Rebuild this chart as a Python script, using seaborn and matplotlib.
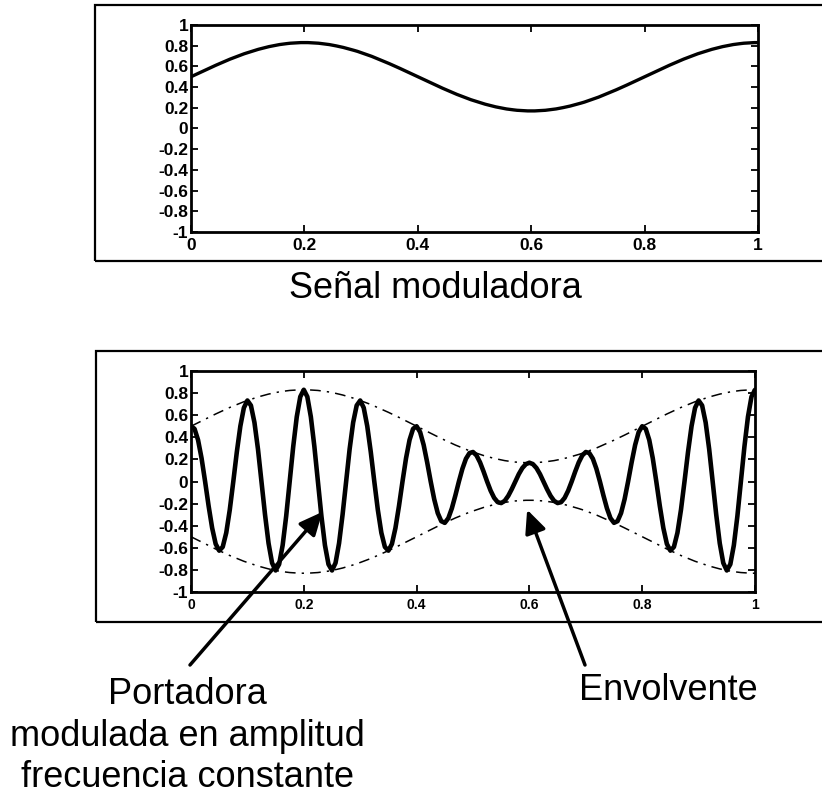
import matplotlib

matplotlib.use("Agg")
import matplotlib.pyplot as plt  # noqa: E402
import numpy as np  # noqa: E402
import pandas as pd  # noqa: E402
import seaborn as sns  # noqa: E402
from matplotlib.patches import Rectangle  # noqa: E402

W, H = 822, 799

# --- Datos ------------------------------------------------------------------
# muestras en t = 0 .. 1 (161 muestras, paso 1/160)
T = np.linspace(0.0, 1.0, 161)

# senal moduladora (tambien envolvente superior)
MODULADORA = [
    0.500, 0.516, 0.532, 0.548, 0.564, 0.580, 0.596, 0.611, 0.626, 0.641, 0.656,
    0.670, 0.683, 0.697, 0.709, 0.722, 0.733, 0.745, 0.755, 0.765, 0.774, 0.783,
    0.791, 0.798, 0.805, 0.811, 0.816, 0.820, 0.824, 0.826, 0.828, 0.830, 0.830,
    0.830, 0.828, 0.826, 0.824, 0.820, 0.816, 0.811, 0.805, 0.798, 0.791, 0.783,
    0.774, 0.765, 0.755, 0.745, 0.733, 0.722, 0.709, 0.697, 0.683, 0.670, 0.656,
    0.641, 0.626, 0.611, 0.596, 0.580, 0.564, 0.548, 0.532, 0.516, 0.500,
    0.484, 0.468, 0.452, 0.436, 0.420, 0.404, 0.389, 0.374, 0.359, 0.344, 0.330,
    0.317, 0.303, 0.291, 0.278, 0.267, 0.255, 0.245, 0.235, 0.226, 0.217, 0.209,
    0.202, 0.195, 0.189, 0.184, 0.180, 0.176, 0.174, 0.172, 0.170, 0.170,
    0.170, 0.172, 0.174, 0.176, 0.180, 0.184, 0.189, 0.195, 0.202, 0.209, 0.217,
    0.226, 0.235, 0.245, 0.255, 0.267, 0.278, 0.291, 0.303, 0.317, 0.330, 0.344,
    0.359, 0.374, 0.389, 0.404, 0.420, 0.436, 0.452, 0.468, 0.484, 0.500,
    0.516, 0.532, 0.548, 0.564, 0.580, 0.596, 0.611, 0.626, 0.641, 0.656, 0.670,
    0.683, 0.697, 0.709, 0.722, 0.733, 0.745, 0.755, 0.765, 0.774, 0.783, 0.791,
    0.798, 0.805, 0.811, 0.816, 0.820, 0.824, 0.826, 0.828, 0.830, 0.830,
]

# portadora modulada en amplitud
PORTADORA = [
    0.500, 0.477, 0.376, 0.210, 0.0, -0.222, -0.421, -0.565,
    -0.626, -0.592, -0.464, -0.256, 0.0, 0.267, 0.501, 0.667,
    0.733, 0.688, 0.534, 0.293, 0.0, -0.300, -0.559, -0.737,
    -0.805, -0.749, -0.577, -0.314, 0.0, 0.316, 0.585, 0.767,
    0.830, 0.767, 0.585, 0.316, 0.0, -0.314, -0.577, -0.749,
    -0.805, -0.737, -0.559, -0.300, 0.0, 0.293, 0.534, 0.688,
    0.733, 0.667, 0.501, 0.267, 0.0, -0.256, -0.464, -0.592,
    -0.626, -0.565, -0.421, -0.222, 0.0, 0.210, 0.376, 0.477,
    0.500, 0.447, 0.331, 0.173, 0.0, -0.161, -0.286, -0.359,
    -0.374, -0.332, -0.243, -0.126, 0.0, 0.116, 0.206, 0.257,
    0.267, 0.236, 0.173, 0.090, 0.0, -0.083, -0.148, -0.187,
    -0.195, -0.175, -0.130, -0.069, 0.0, 0.067, 0.122, 0.157,
    0.170, 0.157, 0.122, 0.067, 0.0, -0.069, -0.130, -0.175,
    -0.195, -0.187, -0.148, -0.083, 0.0, 0.090, 0.173, 0.236,
    0.267, 0.257, 0.206, 0.116, 0.0, -0.126, -0.243, -0.332,
    -0.374, -0.359, -0.286, -0.161, 0.0, 0.173, 0.331, 0.447,
    0.500, 0.477, 0.376, 0.210, 0.0, -0.222, -0.421, -0.565,
    -0.626, -0.592, -0.464, -0.256, 0.0, 0.267, 0.501, 0.667,
    0.733, 0.688, 0.534, 0.293, 0.0, -0.300, -0.559, -0.737,
    -0.805, -0.749, -0.577, -0.314, 0.0, 0.316, 0.585, 0.767,
    0.830,
]

X_TICKS = [0.0, 0.2, 0.4, 0.6, 0.8, 1.0]
X_TICK_LABELS = ["0", "0.2", "0.4", "0.6", "0.8", "1"]
Y_TICKS = [-1.0, -0.8, -0.6, -0.4, -0.2, 0.0, 0.2, 0.4, 0.6, 0.8, 1.0]
Y_TICK_LABELS = ["-1", "-0.8", "-0.6", "-0.4", "-0.2", "0",
                 "0.2", "0.4", "0.6", "0.8", "1"]

TITULO_SUPERIOR = "Señal moduladora"
ETIQUETA_PORTADORA = ["Portadora", "modulada en amplitud", "frecuencia constante"]
ETIQUETA_ENVOLVENTE = "Envolvente"


def px_rect(left, top, right, bottom):
    """Caja en pixeles (origen arriba-izquierda) -> fracciones de figura."""
    return [left / W, 1 - bottom / H, (right - left) / W, (bottom - top) / H]


def fx(px):
    return px / W


def fy(py):
    return 1 - py / H


def style_axes(ax, xsize):
    ax.set_xlim(0, 1)
    ax.set_ylim(-1, 1)
    ax.set_xticks(X_TICKS)
    ax.set_xticklabels(X_TICK_LABELS, fontsize=xsize, fontweight="bold")
    ax.set_yticks(Y_TICKS)
    ax.set_yticklabels(Y_TICK_LABELS, fontsize=12.5, fontweight="bold")
    ax.tick_params(direction="in", top=True, right=True, length=5,
                   width=1.3, color="black", labelcolor="black")
    ax.tick_params(axis="y", pad=2)
    ax.tick_params(axis="x", pad=4)
    for sp in ax.spines.values():
        sp.set_visible(True)
        sp.set_linewidth(2.0)
        sp.set_color("black")
    ax.set_xlabel("")
    ax.set_ylabel("")
    ax.grid(False)


sns.set_theme(style="ticks")
plt.rcParams["font.family"] = ["Liberation Sans", "DejaVu Sans"]

df = pd.DataFrame({
    "t": T,
    "mod": MODULADORA,
    "env_inf": [-v for v in MODULADORA],
    "port": PORTADORA,
})

fig = plt.figure(figsize=(W / 100, H / 100), dpi=100)
fig.patch.set_facecolor("white")

# marcos exteriores (el borde derecho queda fuera de la imagen)
for left, top, bottom in [(95, 5, 261), (96, 351, 622)]:
    fig.patches.append(Rectangle(
        (fx(left), fy(bottom)), 1.2, (bottom - top) / H,
        transform=fig.transFigure, fill=False, edgecolor="black",
        linewidth=1.6, clip_on=False))

# --- panel superior: senal moduladora ---------------------------------------
ax1 = fig.add_axes(px_rect(191, 25, 758, 232))
sns.lineplot(data=df, x="t", y="mod", color="black", linewidth=2.4, ax=ax1)
style_axes(ax1, 12.5)

fig.text(fx(435), fy(298), TITULO_SUPERIOR, fontsize=26,
         ha="center", va="baseline", color="black")

# --- panel inferior: portadora modulada + envolvente ------------------------
ax2 = fig.add_axes(px_rect(191, 371, 755, 592))
sns.lineplot(data=df, x="t", y="mod", color="black", linewidth=1.1,
             linestyle=(0, (7, 4, 1.5, 4)), ax=ax2)
sns.lineplot(data=df, x="t", y="env_inf", color="black", linewidth=1.1,
             linestyle=(0, (7, 4, 1.5, 4)), ax=ax2)
sns.lineplot(data=df, x="t", y="port", color="black", linewidth=3.3, ax=ax2)
style_axes(ax2, 10)

flecha = dict(arrowstyle="-|>,head_length=0.7,head_width=0.32",
              color="black", lw=2.5, shrinkA=0, shrinkB=0,
              mutation_scale=20)
ax2.annotate("", xy=(0.233, -0.275), xycoords="data",
             xytext=(fx(190), fy(665)), textcoords="figure fraction",
             arrowprops=flecha)
ax2.annotate("", xy=(0.596, -0.255), xycoords="data",
             xytext=(fx(585), fy(665)), textcoords="figure fraction",
             arrowprops=flecha)

for linea, base in zip(ETIQUETA_PORTADORA, [704, 746, 787]):
    fig.text(fx(187), fy(base), linea, fontsize=26,
             ha="center", va="baseline", color="black")
fig.text(fx(668), fy(700), ETIQUETA_ENVOLVENTE, fontsize=26,
         ha="center", va="baseline", color="black")

fig.savefig("out.png", dpi=100)
plt.close(fig)
